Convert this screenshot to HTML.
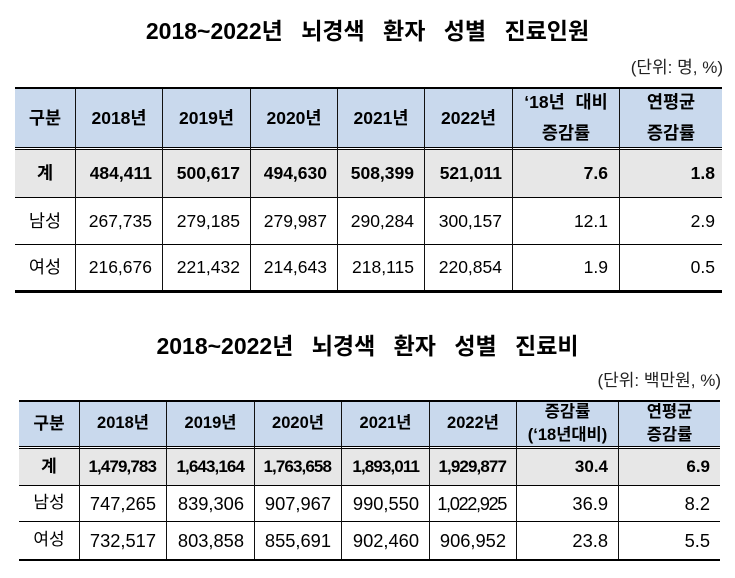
<!DOCTYPE html>
<html><head><meta charset="utf-8">
<style>
*{margin:0;padding:0;box-sizing:border-box}
body{width:735px;height:578px;background:#fff;position:relative;overflow:hidden;font-family:"Liberation Sans","Noto Sans CJK KR",sans-serif;color:#000}
.a{position:absolute}
.t{position:absolute;left:0;width:735px;text-align:center;font-weight:bold;font-size:23px;line-height:26px;word-spacing:12px;white-space:nowrap;color:#000}
.u{position:absolute;font-size:17px;line-height:19px;color:#222;white-space:nowrap;text-align:right}
.hl{position:absolute;background:#000;height:1px}
.vl{position:absolute;background:#111;width:1px}
.c{position:absolute;display:flex;align-items:center;justify-content:center;white-space:nowrap;line-height:1.2;text-align:center}
.r{justify-content:flex-end}
.t1{font-size:17.5px}
.b{font-weight:bold}
.t2h{font-size:16.5px;font-weight:bold}
.t2n{font-size:18.3px}
.t2k{font-size:17px}
.t2b{font-size:17px;font-weight:bold;letter-spacing:-0.9px}
</style></head><body>

<!-- ================= TABLE 1 ================= -->
<div class="t" style="top:18px;">2018~2022년 뇌경색 환자 성별 진료인원</div>
<div class="u" style="top:58px;right:12px;">(단위: 명, %)</div>

<div class="a" style="left:15px;top:89px;width:707px;height:58px;background:#c9d9ed"></div>
<div class="a" style="left:15px;top:150px;width:707px;height:47px;background:#e7e7e7"></div>

<div class="hl" style="left:15px;top:87px;width:707px;height:2px"></div>
<div class="hl" style="left:15px;top:147px;width:707px"></div>
<div class="hl" style="left:15px;top:149px;width:707px"></div>
<div class="hl" style="left:15px;top:197px;width:707px"></div>
<div class="hl" style="left:15px;top:244px;width:707px"></div>
<div class="hl" style="left:15px;top:290px;width:707px;height:3px"></div>

<div class="vl" style="left:75px;top:89px;height:201px"></div>
<div class="vl" style="left:162px;top:89px;height:201px"></div>
<div class="vl" style="left:250px;top:89px;height:201px"></div>
<div class="vl" style="left:337px;top:89px;height:201px"></div>
<div class="vl" style="left:424px;top:89px;height:201px"></div>
<div class="vl" style="left:512px;top:89px;height:201px"></div>
<div class="vl" style="left:619px;top:89px;height:201px"></div>

<div class="c t1 b" style="left:15px;top:89px;width:60px;height:58px">구분</div>
<div class="c t1 b" style="left:76px;top:89px;width:86px;height:58px">2018년</div>
<div class="c t1 b" style="left:163px;top:89px;width:87px;height:58px">2019년</div>
<div class="c t1 b" style="left:251px;top:89px;width:86px;height:58px">2020년</div>
<div class="c t1 b" style="left:338px;top:89px;width:86px;height:58px">2021년</div>
<div class="c t1 b" style="left:425px;top:89px;width:87px;height:58px">2022년</div>
<div class="c t1 b" style="left:513px;top:89px;width:106px;height:58px;line-height:31px;word-spacing:6px">‘18년 대비<br>증감률</div>
<div class="c t1 b" style="left:620px;top:89px;width:102px;height:58px;line-height:31px">연평균<br>증감률</div>

<div class="c t1 b" style="left:15px;top:150px;width:60px;height:47px">계</div>
<div class="c t1 b r" style="left:76px;top:150px;width:86px;height:47px;padding-right:10px">484,411</div>
<div class="c t1 b r" style="left:163px;top:150px;width:87px;height:47px;padding-right:10px">500,617</div>
<div class="c t1 b r" style="left:251px;top:150px;width:86px;height:47px;padding-right:10px">494,630</div>
<div class="c t1 b r" style="left:338px;top:150px;width:86px;height:47px;padding-right:10px">508,399</div>
<div class="c t1 b r" style="left:425px;top:150px;width:87px;height:47px;padding-right:10px">521,011</div>
<div class="c t1 b r" style="left:513px;top:150px;width:106px;height:47px;padding-right:11px">7.6</div>
<div class="c t1 b r" style="left:620px;top:150px;width:102px;height:47px;padding-right:7px">1.8</div>

<div class="c t1" style="left:15px;top:198px;width:60px;height:46px">남성</div>
<div class="c t1 r" style="left:76px;top:198px;width:86px;height:46px;padding-right:10px">267,735</div>
<div class="c t1 r" style="left:163px;top:198px;width:87px;height:46px;padding-right:10px">279,185</div>
<div class="c t1 r" style="left:251px;top:198px;width:86px;height:46px;padding-right:10px">279,987</div>
<div class="c t1 r" style="left:338px;top:198px;width:86px;height:46px;padding-right:10px">290,284</div>
<div class="c t1 r" style="left:425px;top:198px;width:87px;height:46px;padding-right:10px">300,157</div>
<div class="c t1 r" style="left:513px;top:198px;width:106px;height:46px;padding-right:11px">12.1</div>
<div class="c t1 r" style="left:620px;top:198px;width:102px;height:46px;padding-right:7px">2.9</div>

<div class="c t1" style="left:15px;top:245px;width:60px;height:45px">여성</div>
<div class="c t1 r" style="left:76px;top:245px;width:86px;height:45px;padding-right:10px">216,676</div>
<div class="c t1 r" style="left:163px;top:245px;width:87px;height:45px;padding-right:10px">221,432</div>
<div class="c t1 r" style="left:251px;top:245px;width:86px;height:45px;padding-right:10px">214,643</div>
<div class="c t1 r" style="left:338px;top:245px;width:86px;height:45px;padding-right:10px">218,115</div>
<div class="c t1 r" style="left:425px;top:245px;width:87px;height:45px;padding-right:10px">220,854</div>
<div class="c t1 r" style="left:513px;top:245px;width:106px;height:45px;padding-right:11px">1.9</div>
<div class="c t1 r" style="left:620px;top:245px;width:102px;height:45px;padding-right:7px">0.5</div>

<!-- ================= TABLE 2 ================= -->
<div class="t" style="top:333px;">2018~2022년 뇌경색 환자 성별 진료비</div>
<div class="u" style="top:371px;right:14px;">(단위: 백만원, %)</div>

<div class="a" style="left:19px;top:402px;width:701px;height:44px;background:#c9d9ed"></div>
<div class="a" style="left:19px;top:449px;width:701px;height:36px;background:#e7e7e7"></div>

<div class="hl" style="left:19px;top:400px;width:701px;height:2px"></div>
<div class="hl" style="left:19px;top:446px;width:701px"></div>
<div class="hl" style="left:19px;top:448px;width:701px"></div>
<div class="hl" style="left:19px;top:485px;width:701px"></div>
<div class="hl" style="left:19px;top:521px;width:701px"></div>
<div class="hl" style="left:19px;top:559px;width:701px;height:2px"></div>

<div class="vl" style="left:79px;top:402px;height:157px"></div>
<div class="vl" style="left:166px;top:402px;height:157px"></div>
<div class="vl" style="left:254px;top:402px;height:157px"></div>
<div class="vl" style="left:341px;top:402px;height:157px"></div>
<div class="vl" style="left:429px;top:402px;height:157px"></div>
<div class="vl" style="left:516px;top:402px;height:157px"></div>
<div class="vl" style="left:618px;top:402px;height:157px"></div>

<div class="c t2h" style="left:19px;top:402px;width:60px;height:44px;font-size:17px">구분</div>
<div class="c t2h" style="left:80px;top:402px;width:86px;height:44px">2018년</div>
<div class="c t2h" style="left:167px;top:402px;width:87px;height:44px">2019년</div>
<div class="c t2h" style="left:255px;top:402px;width:86px;height:44px">2020년</div>
<div class="c t2h" style="left:342px;top:402px;width:87px;height:44px">2021년</div>
<div class="c t2h" style="left:430px;top:402px;width:86px;height:44px">2022년</div>
<div class="c t2h" style="left:517px;top:402px;width:101px;height:44px;line-height:23px">증감률<br>(‘18년대비)</div>
<div class="c t2h" style="left:619px;top:402px;width:101px;height:44px;line-height:23px">연평균<br>증감률</div>

<div class="c t2k b" style="left:19px;top:449px;width:60px;height:36px">계</div>
<div class="c t2b r" style="left:80px;top:449px;width:86px;height:36px;padding-right:10px">1,479,783</div>
<div class="c t2b r" style="left:167px;top:449px;width:87px;height:36px;padding-right:10px">1,643,164</div>
<div class="c t2b r" style="left:255px;top:449px;width:86px;height:36px;padding-right:10px">1,763,658</div>
<div class="c t2b r" style="left:342px;top:449px;width:87px;height:36px;padding-right:10px">1,893,011</div>
<div class="c t2b r" style="left:430px;top:449px;width:86px;height:36px;padding-right:10px">1,929,877</div>
<div class="c t2b r" style="left:517px;top:449px;width:101px;height:36px;padding-right:10px;letter-spacing:0">30.4</div>
<div class="c t2b r" style="left:619px;top:449px;width:101px;height:36px;padding-right:10px;letter-spacing:0">6.9</div>

<div class="c t2k" style="left:19px;top:486px;width:60px;height:35px">남성</div>
<div class="c t2n r" style="left:80px;top:486px;width:86px;height:35px;padding-right:10px">747,265</div>
<div class="c t2n r" style="left:167px;top:486px;width:87px;height:35px;padding-right:10px">839,306</div>
<div class="c t2n r" style="left:255px;top:486px;width:86px;height:35px;padding-right:10px">907,967</div>
<div class="c t2n r" style="left:342px;top:486px;width:87px;height:35px;padding-right:10px">990,550</div>
<div class="c t2n r" style="left:430px;top:486px;width:86px;height:35px;padding-right:10px;letter-spacing:-1.4px">1,022,925</div>
<div class="c t2n r" style="left:517px;top:486px;width:101px;height:35px;padding-right:10px">36.9</div>
<div class="c t2n r" style="left:619px;top:486px;width:101px;height:35px;padding-right:10px">8.2</div>

<div class="c t2k" style="left:19px;top:522px;width:60px;height:37px">여성</div>
<div class="c t2n r" style="left:80px;top:522px;width:86px;height:37px;padding-right:10px">732,517</div>
<div class="c t2n r" style="left:167px;top:522px;width:87px;height:37px;padding-right:10px">803,858</div>
<div class="c t2n r" style="left:255px;top:522px;width:86px;height:37px;padding-right:10px">855,691</div>
<div class="c t2n r" style="left:342px;top:522px;width:87px;height:37px;padding-right:10px">902,460</div>
<div class="c t2n r" style="left:430px;top:522px;width:86px;height:37px;padding-right:10px">906,952</div>
<div class="c t2n r" style="left:517px;top:522px;width:101px;height:37px;padding-right:10px">23.8</div>
<div class="c t2n r" style="left:619px;top:522px;width:101px;height:37px;padding-right:10px">5.5</div>

</body></html>
